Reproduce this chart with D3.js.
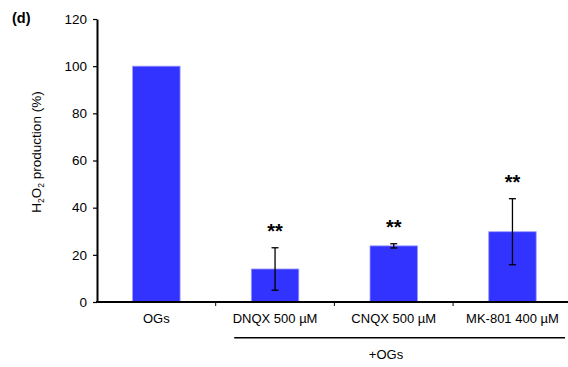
<!DOCTYPE html>
<html>
<head>
<meta charset="utf-8">
<script src="https://cdn.jsdelivr.net/npm/d3@7"></script>
<style>
  html, body { margin: 0; padding: 0; background: #fff; }
  svg { display: block; font-family: "Liberation Sans", Arial, sans-serif; }
</style>
</head>
<body>
<svg id="chart" width="568" height="367"></svg>
<script>
// H2O2 production relative to OGs alone
const categories = ["OGs", "DNQX 500 µM", "CNQX 500 µM", "MK-801 400 µM"];
const values = [100, 14, 23.8, 29.8];
const errors = [0, 9, 0.9, 14];
const significance = ["", "**", "**", "**"];
const yTicks = [0, 20, 40, 60, 80, 100, 120];

const svg = d3.select("#chart");
const margin = { left: 97, top: 19, bottom: 302 };
const bandWidth = 118.7;

const x = d3.scaleBand()
  .domain(categories)
  .range([margin.left, margin.left + bandWidth * categories.length])
  .padding(0);

const y = d3.scaleLinear()
  .domain([0, 120])
  .range([margin.bottom, margin.top]);

const barW = x.bandwidth() * 0.4;

// bars
svg.append("g").selectAll("rect")
  .data(categories)
  .join("rect")
  .attr("x", d => x(d) + (x.bandwidth() - barW) / 2)
  .attr("y", (d, i) => y(values[i]))
  .attr("width", barW)
  .attr("height", (d, i) => y(0) - y(values[i]))
  .attr("fill", "#3333ff")
  .attr("stroke", "#9a9aff")
  .attr("stroke-width", 0.8);

// error bars
const eg = svg.append("g").attr("stroke", "#000").attr("stroke-width", 1.3);
categories.forEach((c, i) => {
  if (!errors[i]) return;
  const cx = x(c) + x.bandwidth() / 2;
  const top = y(values[i] + errors[i]);
  const bot = y(values[i] - errors[i]);
  eg.append("line").attr("x1", cx).attr("x2", cx).attr("y1", top).attr("y2", bot);
  eg.append("line").attr("x1", cx - 3.5).attr("x2", cx + 3.5).attr("y1", top).attr("y2", top);
  eg.append("line").attr("x1", cx - 3.5).attr("x2", cx + 3.5).attr("y1", bot).attr("y2", bot);
});

// significance markers
svg.append("g").selectAll("text")
  .data(categories)
  .join("text")
  .attr("x", d => x(d) + x.bandwidth() / 2)
  .attr("y", (d, i) => y(values[i] + errors[i]) - 9.5)
  .attr("text-anchor", "middle")
  .attr("font-size", 20)
  .attr("font-weight", "bold")
  .text((d, i) => significance[i]);

// y axis
const yAxis = svg.append("g")
  .attr("transform", `translate(${margin.left},0)`)
  .call(d3.axisLeft(y).tickValues(yTicks).tickSize(4).tickPadding(6).tickSizeOuter(0));
yAxis.select(".domain").attr("stroke-width", 2);
yAxis.selectAll(".tick line").attr("stroke-width", 1.2);
yAxis.selectAll("text").attr("font-size", 13.5).attr("fill", "#000")
  .attr("font-family", "Liberation Sans, Arial, sans-serif");

// x axis
const xAxis = svg.append("g")
  .attr("transform", `translate(0,${margin.bottom})`)
  .call(d3.axisBottom(x).tickSize(0).tickPadding(12).tickSizeOuter(0));
xAxis.select(".domain").attr("stroke-width", 2.2).attr("d", `M${margin.left - 1},0H568`);
xAxis.selectAll("text").attr("font-size", 13).attr("fill", "#000")
  .attr("font-family", "Liberation Sans, Arial, sans-serif");

// category separators
svg.append("g").selectAll("line")
  .data(categories.slice(1))
  .join("line")
  .attr("x1", d => x(d)).attr("x2", d => x(d))
  .attr("y1", margin.bottom).attr("y2", margin.bottom + 4)
  .attr("stroke", "#000").attr("stroke-width", 1);

// treatment bracket
const bx0 = x(categories[1]) + 18.5;
const bx1 = 565;
svg.append("line")
  .attr("x1", bx0).attr("x2", bx1)
  .attr("y1", 337.7).attr("y2", 337.7)
  .attr("stroke", "#000").attr("stroke-width", 1.5);
svg.append("text")
  .attr("x", 386)
  .attr("y", 358.5)
  .attr("text-anchor", "middle")
  .attr("font-size", 13)
  .text("+OGs");

// y label
svg.append("text")
  .attr("transform", "translate(41,152) rotate(-90)")
  .attr("text-anchor", "middle")
  .attr("font-size", 13.5)
  .html('H<tspan font-size="8.5" dy="3">2</tspan><tspan dy="-3">O</tspan><tspan font-size="8.5" dy="3">2</tspan><tspan dy="-3"> production (%)</tspan>');

// panel label
svg.append("text")
  .attr("x", 12).attr("y", 23)
  .attr("font-size", 14.5)
  .attr("font-weight", "bold")
  .text("(d)");
</script>
</body>
</html>
